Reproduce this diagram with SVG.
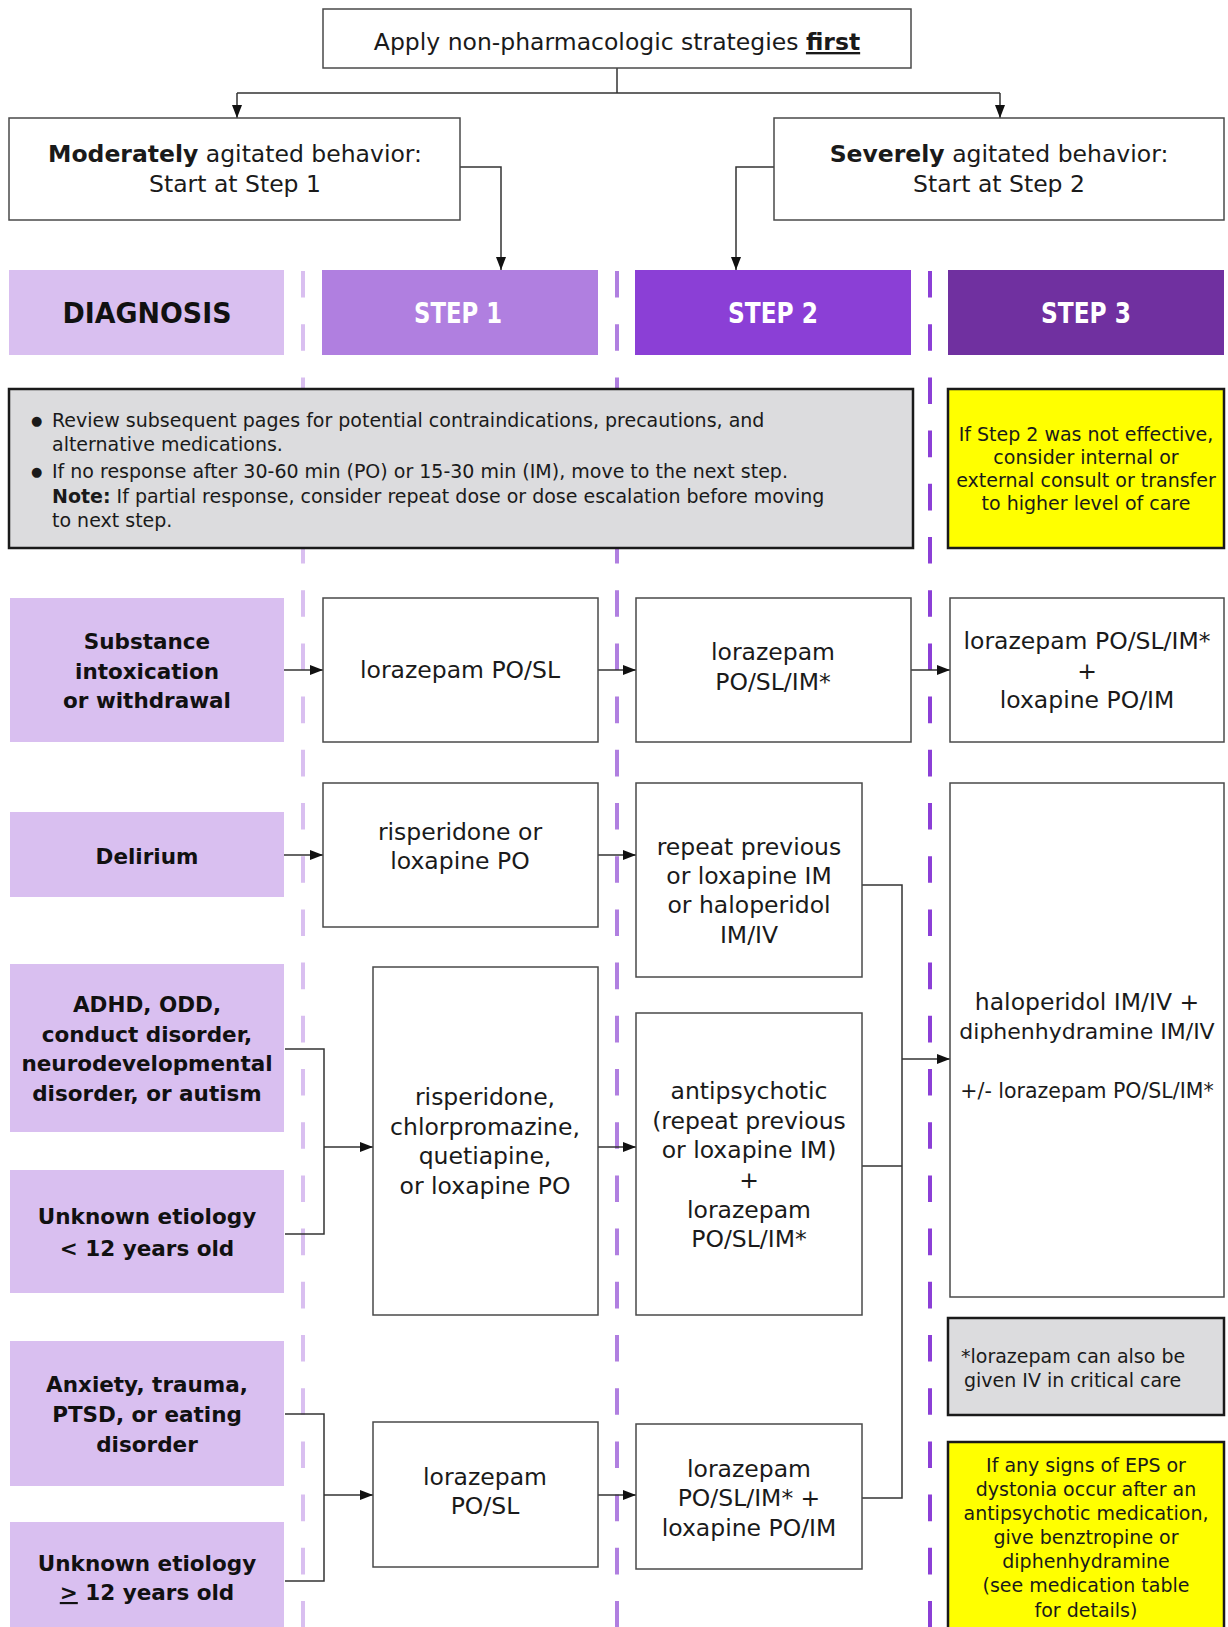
<svg xmlns="http://www.w3.org/2000/svg" width="1228" height="1627" viewBox="0 0 1228 1627">
<style>
text{font-family:"DejaVu Sans","Liberation Sans",sans-serif;fill:#1a1a1a}
.t{font-size:23.5px;text-anchor:middle}
.b{font-size:21.5px;font-weight:bold;text-anchor:middle;fill:#111}
.h{font-size:29px;font-weight:bold;text-anchor:middle;fill:#fff}
.n{font-size:19px}
.bul{font-size:13px}
.y{font-size:19px;text-anchor:middle}
.box{fill:#fff;stroke:#4a4a4a;stroke-width:1.5}
.diag{fill:#d9bff0}
.note{stroke:#1a1a1a;stroke-width:2.5}
.c{fill:none;stroke:#333;stroke-width:1.5}
.a{fill:none;stroke:#333;stroke-width:1.5;marker-end:url(#ar)}
.d{fill:none;stroke-width:4;stroke-dasharray:26.6 26.6}
</style>
<defs>
<marker id="ar" markerUnits="userSpaceOnUse" markerWidth="13" markerHeight="10" refX="13" refY="5" orient="auto">
<path d="M0,0 L13,5 L0,10 z" fill="#111"/>
</marker>
</defs>
<rect width="1228" height="1627" fill="#fff"/>
<g id="dividers">
<line class="d" x1="303" y1="271" x2="303" y2="1627" stroke="#d9bff0"/>
<line class="d" x1="617" y1="271" x2="617" y2="1627" stroke="#b07fe0"/>
<line class="d" x1="930" y1="271" x2="930" y2="1627" stroke="#8b3fd6"/>
</g>
<g id="connectors">
<path class="c" d="M617,68 V93 M237,93 H1000"/>
<path class="a" d="M237,93 V118"/>
<path class="a" d="M1000,93 V118"/>
<path class="a" d="M460,167 H501 V270"/>
<path class="a" d="M774,167 H736 V270"/>
<path class="a" d="M284,670 H323"/>
<path class="a" d="M598,670 H636"/>
<path class="a" d="M911,670 H950"/>
<path class="a" d="M284,855 H323"/>
<path class="a" d="M598,855 H636"/>
<path class="c" d="M285,1049 H324 V1234 H285"/>
<path class="a" d="M324,1147 H373"/>
<path class="a" d="M598,1147 H636"/>
<path class="c" d="M285,1414 H324 V1581 H285"/>
<path class="a" d="M324,1495 H373"/>
<path class="a" d="M598,1495 H636"/>
<path class="c" d="M862,885 H902 V1498 H862 M862,1166 H902"/>
<path class="a" d="M902,1059 H950"/>
</g>
<g id="top">
<rect class="box" x="323" y="9" width="588" height="59"/>
<text class="t" x="617" y="50">Apply non-pharmacologic strategies <tspan font-weight="bold" text-decoration="underline">first</tspan></text>
</g>
<g id="moderate">
<rect class="box" x="9" y="118" width="451" height="102"/>
<text class="t" x="235" y="162"><tspan font-weight="bold">Moderately</tspan> agitated behavior:</text>
<text class="t" x="235" y="192">Start at Step 1</text>
</g>
<g id="severe">
<rect class="box" x="774" y="118" width="450" height="102"/>
<text class="t" x="999" y="162"><tspan font-weight="bold">Severely</tspan> agitated behavior:</text>
<text class="t" x="999" y="192">Start at Step 2</text>
</g>
<g id="hdr-diagnosis">
<rect x="9" y="270" width="275" height="85" fill="#d9bff0"/>
<text class="h" x="147" y="323" style="fill:#111" textLength="169" lengthAdjust="spacingAndGlyphs">DIAGNOSIS</text>
</g>
<g id="hdr-step1">
<rect x="322" y="270" width="276" height="85" fill="#b07fe0"/>
<text class="h" x="458" y="323" textLength="88" lengthAdjust="spacingAndGlyphs">STEP 1</text>
</g>
<g id="hdr-step2">
<rect x="635" y="270" width="276" height="85" fill="#8b3fd6"/>
<text class="h" x="773" y="323" textLength="90" lengthAdjust="spacingAndGlyphs">STEP 2</text>
</g>
<g id="hdr-step3">
<rect x="948" y="270" width="276" height="85" fill="#7030a0"/>
<text class="h" x="1086" y="323" textLength="90" lengthAdjust="spacingAndGlyphs">STEP 3</text>
</g>
<g id="note-general">
<rect class="note" x="9" y="389" width="904" height="159" fill="#dcdcde"/>
<text class="bul" x="31" y="425">●</text>
<text class="n" x="52" y="427">Review subsequent pages for potential contraindications, precautions, and</text>
<text class="n" x="52" y="451">alternative medications.</text>
<text class="bul" x="31" y="476">●</text>
<text class="n" x="52" y="478">If no response after 30-60 min (PO) or 15-30 min (IM), move to the next step.</text>
<text class="n" x="52" y="503"><tspan font-weight="bold">Note:</tspan> If partial response, consider repeat dose or dose escalation before moving</text>
<text class="n" x="52" y="527">to next step.</text>
</g>
<g id="note-step3">
<rect class="note" x="948" y="389" width="276" height="159" fill="#ffff00"/>
<text class="y" x="1086" y="441">If Step 2 was not effective,</text>
<text class="y" x="1086" y="464">consider internal or</text>
<text class="y" x="1086" y="487">external consult or transfer</text>
<text class="y" x="1086" y="510">to higher level of care</text>
</g>
<g id="dx-substance">
<rect class="diag" x="10" y="598" width="274" height="144"/>
<text class="b" x="147" y="649">Substance</text>
<text class="b" x="147" y="679">intoxication</text>
<text class="b" x="147" y="708">or withdrawal</text>
</g>
<g id="s1-substance">
<rect class="box" x="323" y="598" width="275" height="144"/>
<text class="t" x="460" y="678">lorazepam PO/SL</text>
</g>
<g id="s2-substance">
<rect class="box" x="636" y="598" width="275" height="144"/>
<text class="t" x="773" y="660">lorazepam</text>
<text class="t" x="773" y="690">PO/SL/IM*</text>
</g>
<g id="s3-substance">
<rect class="box" x="950" y="598" width="274" height="144"/>
<text class="t" x="1087" y="649">lorazepam PO/SL/IM*</text>
<text class="t" x="1087" y="679">+</text>
<text class="t" x="1087" y="708">loxapine PO/IM</text>
</g>
<g id="dx-delirium">
<rect class="diag" x="10" y="812" width="274" height="85"/>
<text class="b" x="147" y="864">Delirium</text>
</g>
<g id="s1-delirium">
<rect class="box" x="323" y="783" width="275" height="144"/>
<text class="t" x="460" y="840">risperidone or</text>
<text class="t" x="460" y="869">loxapine PO</text>
</g>
<g id="s2-delirium">
<rect class="box" x="636" y="783" width="226" height="194"/>
<text class="t" x="749" y="855">repeat previous</text>
<text class="t" x="749" y="884">or loxapine IM</text>
<text class="t" x="749" y="913">or haloperidol</text>
<text class="t" x="749" y="943">IM/IV</text>
</g>
<g id="s3-antipsychotic">
<rect class="box" x="950" y="783" width="274" height="514"/>
<text class="t" x="1087" y="1010">haloperidol IM/IV +</text>
<text class="t" x="1087" y="1039" style="font-size:22px">diphenhydramine IM/IV</text>
<text class="t" x="1087" y="1098" style="font-size:20.5px">+/- lorazepam PO/SL/IM*</text>
</g>
<g id="dx-adhd">
<rect class="diag" x="10" y="964" width="274" height="168"/>
<text class="b" x="147" y="1012">ADHD, ODD,</text>
<text class="b" x="147" y="1042">conduct disorder,</text>
<text class="b" x="147" y="1071">neurodevelopmental</text>
<text class="b" x="147" y="1101">disorder, or autism</text>
</g>
<g id="dx-unknown-young">
<rect class="diag" x="10" y="1170" width="274" height="123"/>
<text class="b" x="147" y="1224">Unknown etiology</text>
<text class="b" x="147" y="1256">&lt; 12 years old</text>
</g>
<g id="s1-behavior">
<rect class="box" x="373" y="967" width="225" height="348"/>
<text class="t" x="485" y="1105">risperidone,</text>
<text class="t" x="485" y="1135">chlorpromazine,</text>
<text class="t" x="485" y="1164">quetiapine,</text>
<text class="t" x="485" y="1194">or loxapine PO</text>
</g>
<g id="s2-behavior">
<rect class="box" x="636" y="1013" width="226" height="302"/>
<text class="t" x="749" y="1099">antipsychotic</text>
<text class="t" x="749" y="1129">(repeat previous</text>
<text class="t" x="749" y="1158">or loxapine IM)</text>
<text class="t" x="749" y="1188">+</text>
<text class="t" x="749" y="1218">lorazepam</text>
<text class="t" x="749" y="1247">PO/SL/IM*</text>
</g>
<g id="note-iv">
<rect class="note" x="948" y="1318" width="276" height="97" fill="#dcdcde"/>
<text class="n" x="961" y="1363">*lorazepam can also be</text>
<text class="n" x="964" y="1387">given IV in critical care</text>
</g>
<g id="note-eps">
<rect class="note" x="948" y="1442" width="276" height="200" fill="#ffff00"/>
<text class="y" x="1086" y="1472">If any signs of EPS or</text>
<text class="y" x="1086" y="1496">dystonia occur after an</text>
<text class="y" x="1086" y="1520">antipsychotic medication,</text>
<text class="y" x="1086" y="1544">give benztropine or</text>
<text class="y" x="1086" y="1568">diphenhydramine</text>
<text class="y" x="1086" y="1592">(see medication table</text>
<text class="y" x="1086" y="1617">for details)</text>
</g>
<g id="dx-anxiety">
<rect class="diag" x="10" y="1341" width="274" height="145"/>
<text class="b" x="147" y="1392">Anxiety, trauma,</text>
<text class="b" x="147" y="1422">PTSD, or eating</text>
<text class="b" x="147" y="1452">disorder</text>
</g>
<g id="dx-unknown-older">
<rect class="diag" x="10" y="1522" width="274" height="120"/>
<text class="b" x="147" y="1571">Unknown etiology</text>
<text class="b" x="147" y="1600"><tspan text-decoration="underline">&gt;</tspan> 12 years old</text>
</g>
<g id="s1-anxiety">
<rect class="box" x="373" y="1422" width="225" height="145"/>
<text class="t" x="485" y="1485">lorazepam</text>
<text class="t" x="485" y="1514">PO/SL</text>
</g>
<g id="s2-anxiety">
<rect class="box" x="636" y="1424" width="226" height="145"/>
<text class="t" x="749" y="1477">lorazepam</text>
<text class="t" x="749" y="1506">PO/SL/IM* +</text>
<text class="t" x="749" y="1536">loxapine PO/IM</text>
</g>
</svg>
